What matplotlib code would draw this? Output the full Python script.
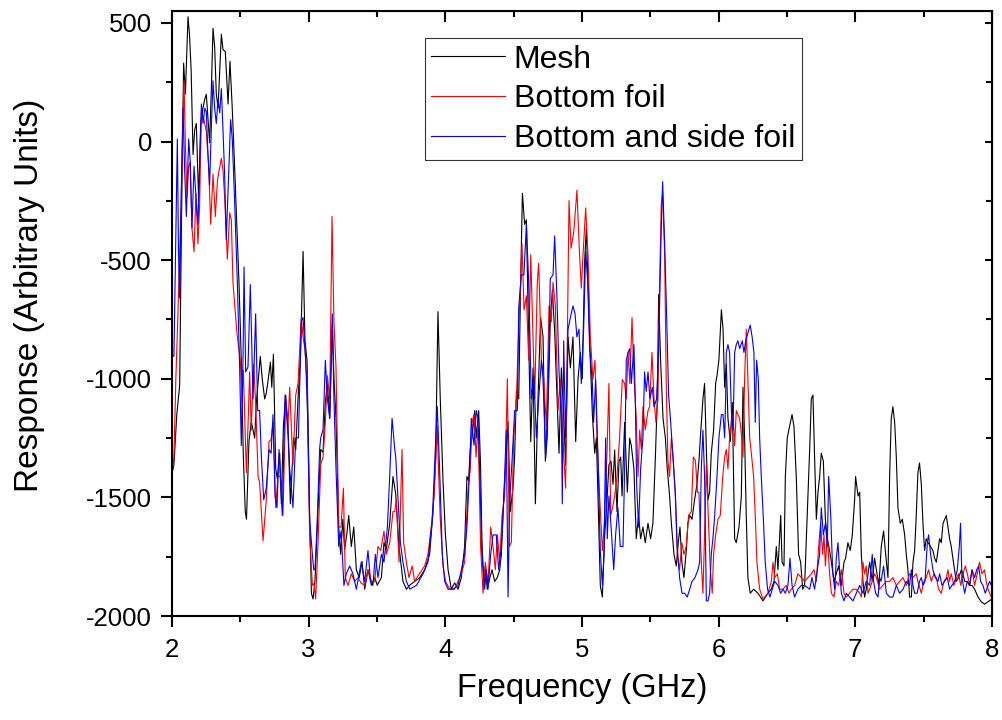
import matplotlib.pyplot as plt
from matplotlib.ticker import MultipleLocator, NullFormatter

plt.rcParams['font.family'] = ['Liberation Sans', 'DejaVu Sans']
plt.rcParams['axes.unicode_minus'] = False

# (frequency GHz, response)
mesh = [
    (2.000, -1400), (2.014, -1363), (2.035, -1150), (2.056, -1028), (2.068, -400), (2.085, 330),
    (2.098, 200), (2.117, 526), (2.128, 450), (2.140, 300), (2.154, -55), (2.166, 50), (2.178, 76),
    (2.195, -251), (2.210, 80), (2.227, 142), (2.240, 180), (2.251, 199), (2.263, 100), (2.275, -5),
    (2.288, 223), (2.300, 477), (2.312, 400), (2.324, 200), (2.337, 142), (2.349, 300), (2.361, 452),
    (2.373, 387), (2.390, 379), (2.410, 158), (2.424, 338), (2.440, 150), (2.458, -104), (2.475, -365),
    (2.490, -594), (2.507, -922), (2.522, -1330), (2.536, -1560), (2.545, -1592), (2.563, -1265),
    (2.580, -1180), (2.593, -1216), (2.605, -1250), (2.617, -1102), (2.632, -1000), (2.646, -906),
    (2.660, -1000), (2.678, -1085), (2.690, -1060), (2.700, -1020), (2.720, -930), (2.730, -1036),
    (2.742, -897), (2.759, -1380), (2.770, -1420), (2.788, -1314), (2.800, -1527), (2.815, -1200),
    (2.832, -1069), (2.848, -1200), (2.866, -1527), (2.890, -1249), (2.905, -1300), (2.922, -1085),
    (2.939, -922), (2.959, -463), (2.973, -840), (2.988, -922), (3.007, -1576), (3.020, -1904),
    (3.032, -1928), (3.046, -1854), (3.068, -1550), (3.088, -1298), (3.105, -1310), (3.122, -1100),
    (3.137, -1020), (3.154, -1167), (3.173, -774), (3.185, -1000), (3.200, -1167), (3.220, -1625),
    (3.234, -1740), (3.250, -1592), (3.263, -1720), (3.280, -1650), (3.293, -1576), (3.312, -1707),
    (3.330, -1625), (3.349, -1805), (3.370, -1838), (3.390, -1770), (3.410, -1887), (3.434, -1805),
    (3.459, -1870), (3.483, -1838), (3.502, -1870), (3.532, -1838), (3.551, -1690), (3.568, -1720),
    (3.593, -1609), (3.617, -1412), (3.637, -1486), (3.661, -1707), (3.690, -1854), (3.715, -1887),
    (3.740, -1870), (3.775, -1854), (3.810, -1840), (3.849, -1805), (3.885, -1740), (3.910, -1560),
    (3.929, -1330), (3.946, -717), (3.963, -1085), (3.983, -1429), (4.000, -1650), (4.020, -1805),
    (4.044, -1887), (4.068, -1860), (4.093, -1887), (4.117, -1838), (4.141, -1707), (4.158, -1412),
    (4.170, -1430), (4.182, -1300), (4.195, -1249), (4.215, -1134), (4.227, -1249), (4.244, -1134),
    (4.258, -1370), (4.268, -1691), (4.283, -1871), (4.292, -1790), (4.307, -1887), (4.325, -1840),
    (4.342, -1805), (4.361, -1854), (4.380, -1838), (4.398, -1805), (4.410, -1740), (4.429, -1480),
    (4.446, -1330), (4.459, -1180), (4.475, -1560), (4.495, -1461), (4.507, -1330), (4.520, -1053),
    (4.537, -1085), (4.551, -594), (4.564, -218), (4.580, -349), (4.593, -330), (4.610, -840),
    (4.625, -1265), (4.642, -954), (4.659, -1527), (4.678, -1085), (4.697, -742), (4.715, -824),
    (4.732, -1347), (4.745, -1250), (4.768, -760), (4.783, -627), (4.800, -800), (4.832, -1314),
    (4.849, -954), (4.866, -1150), (4.880, -1363), (4.898, -824), (4.915, -954), (4.934, -824),
    (4.954, -1265), (4.971, -1000), (4.988, -889), (5.002, -1000), (5.020, -496), (5.032, -365),
    (5.044, -600), (5.061, -922), (5.076, -1151), (5.093, -1314), (5.105, -1249), (5.117, -1494),
    (5.134, -1871), (5.149, -1920), (5.166, -1660), (5.183, -1510), (5.197, -1363), (5.212, -1347),
    (5.227, -1445), (5.239, -1300), (5.256, -1560), (5.271, -1347), (5.283, -1330), (5.293, -1494),
    (5.312, -1184), (5.332, -1478), (5.349, -1250), (5.361, -1282), (5.380, -1380), (5.397, -1674),
    (5.414, -1576), (5.429, -1674), (5.446, -1625), (5.463, -1691), (5.483, -1609), (5.502, -1674),
    (5.519, -1609), (5.537, -1330), (5.551, -1085), (5.561, -645), (5.575, -920), (5.593, -1167),
    (5.610, -1249), (5.624, -1380), (5.641, -1494), (5.654, -1609), (5.673, -1740), (5.690, -1789),
    (5.702, -1707), (5.717, -1625), (5.731, -1773), (5.746, -1838), (5.763, -1724), (5.775, -1609),
    (5.788, -1576), (5.805, -1592), (5.824, -1510), (5.841, -1445), (5.856, -1347), (5.866, -1249),
    (5.885, -1085), (5.897, -1020), (5.910, -1298), (5.922, -1510), (5.934, -1478), (5.946, -1314),
    (5.963, -1216), (5.978, -1020), (5.988, -987), (6.002, -920), (6.020, -709), (6.032, -791),
    (6.044, -1036), (6.056, -938), (6.068, -1167), (6.085, -1265), (6.100, -1100), (6.117, -1674),
    (6.129, -1691), (6.149, -1625), (6.166, -1494), (6.178, -1036), (6.190, -1249), (6.202, -1576),
    (6.214, -1838), (6.231, -1904), (6.256, -1887), (6.288, -1904), (6.324, -1936), (6.361, -1904),
    (6.385, -1887), (6.405, -1854), (6.422, -1707), (6.434, -1805), (6.454, -1576), (6.464, -1773),
    (6.478, -1789), (6.488, -1412), (6.502, -1249), (6.519, -1200), (6.537, -1151), (6.551, -1200),
    (6.568, -1412), (6.585, -1740), (6.600, -1773), (6.615, -1887), (6.629, -1871), (6.648, -1576),
    (6.666, -1298), (6.678, -1085), (6.690, -1069), (6.702, -1330), (6.715, -1592), (6.727, -1478),
    (6.739, -1412), (6.751, -1314), (6.766, -1347), (6.781, -1592), (6.795, -1674), (6.812, -1724),
    (6.825, -1773), (6.844, -1854), (6.861, -1822), (6.878, -1789), (6.898, -1871), (6.917, -1773),
    (6.929, -1756), (6.946, -1691), (6.963, -1724), (6.978, -1658), (6.995, -1510), (7.002, -1412),
    (7.020, -1494), (7.032, -1478), (7.044, -1740), (7.056, -1854), (7.068, -1920), (7.080, -1887),
    (7.093, -1822), (7.105, -1773), (7.124, -1854), (7.141, -1756), (7.154, -1805), (7.173, -1871),
    (7.190, -1707), (7.207, -1642), (7.222, -1740), (7.239, -1838), (7.251, -1412), (7.263, -1167),
    (7.275, -1118), (7.288, -1184), (7.300, -1330), (7.312, -1543), (7.329, -1609), (7.344, -1592),
    (7.361, -1658), (7.373, -1740), (7.385, -1805), (7.397, -1920), (7.410, -1920), (7.422, -1773),
    (7.434, -1724), (7.446, -1576), (7.458, -1396), (7.470, -1355), (7.483, -1445), (7.495, -1609),
    (7.507, -1724), (7.519, -1674), (7.532, -1691), (7.551, -1707), (7.568, -1724), (7.580, -1756),
    (7.593, -1773), (7.605, -1724), (7.617, -1674), (7.629, -1691), (7.642, -1609), (7.654, -1592),
    (7.666, -1576), (7.678, -1625), (7.690, -1674), (7.702, -1707), (7.722, -1789), (7.739, -1854),
    (7.756, -1838), (7.776, -1805), (7.788, -1822), (7.800, -1854), (7.819, -1854), (7.836, -1871),
    (7.854, -1871), (7.873, -1887), (7.898, -1920), (7.922, -1940), (7.946, -1950), (7.971, -1940),
    (7.995, -1930),
]

bottom_foil = [
    (2.000, -1400), (2.014, -1330), (2.028, -1000), (2.039, -807), (2.056, -464), (2.068, -235),
    (2.080, 125), (2.088, 256), (2.098, -22), (2.110, -235), (2.122, -104), (2.132, -88), (2.146, -365),
    (2.161, -464), (2.175, -218), (2.190, -431), (2.202, -267), (2.215, 125), (2.234, 92), (2.251, 43),
    (2.268, -104), (2.283, -349), (2.300, -137), (2.317, -316), (2.332, -169), (2.345, -120),
    (2.361, -71), (2.373, -120), (2.385, -235), (2.405, -496), (2.422, -300), (2.434, -330),
    (2.446, -594), (2.475, -807), (2.490, -880), (2.500, -920), (2.512, -1100), (2.522, -963),
    (2.544, -1396), (2.556, -1200), (2.568, -971), (2.580, -1216), (2.597, -938), (2.612, -1102),
    (2.630, -1412), (2.641, -1437), (2.666, -1683), (2.690, -1510), (2.710, -1265), (2.725, -1257),
    (2.739, -1184), (2.759, -1543), (2.775, -1410), (2.793, -1412), (2.812, -1576), (2.832, -1085),
    (2.846, -1230), (2.861, -1036), (2.885, -1363), (2.905, -1069), (2.922, -1020), (2.946, -742),
    (2.960, -830), (2.973, -873), (2.988, -1020), (3.007, -1658), (3.027, -1871), (3.039, -1862),
    (3.051, -1928), (3.068, -1700), (3.088, -1363), (3.105, -1330), (3.122, -1184), (3.137, -987),
    (3.154, -1085), (3.171, -316), (3.185, -760), (3.200, -954), (3.220, -1625), (3.237, -1625),
    (3.254, -1461), (3.268, -1838), (3.288, -1871), (3.312, -1822), (3.337, -1854), (3.361, -1838),
    (3.385, -1862), (3.410, -1871), (3.434, -1805), (3.459, -1854), (3.483, -1854), (3.507, -1707),
    (3.527, -1724), (3.551, -1642), (3.568, -1740), (3.593, -1691), (3.617, -1560), (3.630, -1560),
    (3.641, -1510), (3.661, -1773), (3.683, -1298), (3.695, -1691), (3.715, -1773), (3.734, -1838),
    (3.758, -1789), (3.775, -1854), (3.810, -1822), (3.849, -1789), (3.873, -1740), (3.897, -1625),
    (3.920, -1480), (3.941, -1200), (3.951, -1400), (3.963, -1592), (3.983, -1789), (4.002, -1854),
    (4.032, -1887), (4.068, -1887), (4.093, -1854), (4.117, -1822), (4.141, -1773), (4.166, -1461),
    (4.183, -1380), (4.195, -1184), (4.210, -1150), (4.225, -1330), (4.239, -1184), (4.258, -1707),
    (4.276, -1904), (4.293, -1773), (4.312, -1871), (4.332, -1625), (4.349, -1707), (4.366, -1805),
    (4.381, -1658), (4.398, -1773), (4.415, -1576), (4.434, -1494), (4.454, -1000), (4.468, -1707),
    (4.483, -1690), (4.500, -1249), (4.520, -1085), (4.537, -791), (4.551, -594), (4.561, -431),
    (4.576, -710), (4.593, -650), (4.610, -922), (4.625, -477), (4.642, -824), (4.654, -1085),
    (4.673, -594), (4.683, -513), (4.703, -922), (4.720, -1000), (4.739, -1200), (4.759, -693),
    (4.775, -760), (4.788, -594), (4.805, -693), (4.825, -1134), (4.842, -1003), (4.861, -1265),
    (4.880, -1461), (4.905, -249), (4.920, -450), (4.940, -380), (4.963, -205), (4.980, -450),
    (4.995, -618), (5.010, -450), (5.027, -280), (5.044, -480), (5.061, -823), (5.080, -1003),
    (5.095, -922), (5.110, -1249), (5.129, -1494), (5.149, -1724), (5.166, -1592), (5.183, -1314),
    (5.197, -1020), (5.210, -1576), (5.224, -1543), (5.239, -1494), (5.256, -1412), (5.275, -1249),
    (5.295, -1003), (5.312, -1020), (5.324, -1085), (5.337, -889), (5.350, -1020), (5.366, -742),
    (5.380, -987), (5.397, -1167), (5.410, -1412), (5.422, -1216), (5.434, -1298), (5.446, -1118),
    (5.463, -1216), (5.483, -1134), (5.495, -1118), (5.512, -889), (5.527, -1085), (5.541, -1184),
    (5.556, -1085), (5.568, -594), (5.580, -267), (5.590, -218), (5.605, -480), (5.617, -1036),
    (5.629, -1347), (5.641, -1412), (5.654, -1249), (5.666, -1330), (5.683, -1494), (5.697, -1740),
    (5.714, -1805), (5.731, -1691), (5.746, -1740), (5.763, -1707), (5.780, -1576), (5.800, -1560),
    (5.815, -1330), (5.830, -1345), (5.845, -1478), (5.856, -1478), (5.873, -1773), (5.885, -1904),
    (5.897, -1658), (5.910, -1363), (5.922, -1543), (5.939, -1805), (5.953, -1904), (5.963, -1740),
    (5.978, -1658), (5.995, -1592), (6.012, -1576), (6.030, -1412), (6.044, -1330), (6.056, -1298),
    (6.068, -1380), (6.080, -1249), (6.093, -1184), (6.105, -1151), (6.117, -1282), (6.129, -1134),
    (6.141, -1151), (6.154, -1167), (6.166, -1232), (6.178, -1330), (6.190, -1000), (6.202, -791),
    (6.214, -1000), (6.227, -1249), (6.239, -1314), (6.256, -1412), (6.270, -1609), (6.280, -1773),
    (6.300, -1887), (6.324, -1928), (6.361, -1904), (6.385, -1855), (6.398, -1773), (6.410, -1838),
    (6.430, -1822), (6.446, -1887), (6.470, -1887), (6.495, -1871), (6.515, -1904), (6.531, -1887),
    (6.556, -1871), (6.580, -1822), (6.605, -1838), (6.629, -1854), (6.654, -1838), (6.678, -1822),
    (6.698, -1805), (6.715, -1854), (6.732, -1707), (6.746, -1609), (6.761, -1740), (6.771, -1658),
    (6.781, -1789), (6.795, -1658), (6.812, -1822), (6.825, -1904), (6.844, -1920), (6.861, -1854),
    (6.878, -1871), (6.898, -1805), (6.917, -1904), (6.934, -1920), (6.958, -1904), (6.983, -1887),
    (7.007, -1887), (7.032, -1904), (7.044, -1920), (7.056, -1773), (7.068, -1822), (7.080, -1789),
    (7.093, -1904), (7.105, -1887), (7.124, -1854), (7.141, -1822), (7.154, -1838), (7.178, -1887),
    (7.202, -1871), (7.227, -1854), (7.251, -1854), (7.275, -1838), (7.300, -1871), (7.324, -1854),
    (7.349, -1838), (7.373, -1871), (7.397, -1822), (7.422, -1838), (7.446, -1822), (7.458, -1854),
    (7.483, -1904), (7.502, -1854), (7.519, -1838), (7.536, -1805), (7.556, -1854), (7.575, -1822),
    (7.593, -1838), (7.610, -1887), (7.629, -1904), (7.649, -1854), (7.666, -1838), (7.678, -1805),
    (7.690, -1854), (7.702, -1822), (7.722, -1871), (7.741, -1838), (7.756, -1822), (7.771, -1871),
    (7.788, -1822), (7.805, -1789), (7.820, -1822), (7.837, -1871), (7.854, -1805), (7.873, -1871),
    (7.892, -1822), (7.909, -1773), (7.927, -1822), (7.946, -1805), (7.958, -1854), (7.971, -1887),
    (7.983, -1904), (7.995, -1920),
]

bottom_side_foil = [
    (2.000, -900), (2.014, -905), (2.028, -400), (2.039, 11), (2.047, -450), (2.056, -660),
    (2.068, -200), (2.080, 142), (2.093, -130), (2.105, -316), (2.122, 11), (2.134, -90), (2.146, -365),
    (2.161, -104), (2.175, -230), (2.190, -349), (2.202, -100), (2.215, 158), (2.227, 76), (2.240, 140),
    (2.251, 125), (2.263, -50), (2.275, -185), (2.288, 60), (2.300, 256), (2.312, 140), (2.324, 76),
    (2.337, 180), (2.349, 120), (2.361, 223), (2.373, 50), (2.385, -140), (2.397, -414), (2.414, -150),
    (2.429, 92), (2.441, 10), (2.458, -250), (2.478, -594), (2.495, -955), (2.507, -1282),
    (2.520, -900), (2.527, -529), (2.539, -971), (2.556, -950), (2.573, -603), (2.593, -1085),
    (2.612, -726), (2.627, -1134), (2.641, -1134), (2.654, -1330), (2.671, -1510), (2.690, -1461),
    (2.710, -1298), (2.725, -1314), (2.739, -1151), (2.754, -1494), (2.768, -1543), (2.783, -1298),
    (2.807, -1576), (2.827, -1069), (2.846, -1184), (2.861, -1380), (2.885, -1543), (2.905, -1249),
    (2.925, -1249), (2.946, -758), (2.959, -742), (2.978, -922), (2.993, -1167), (3.007, -1592),
    (3.027, -1740), (3.037, -1805), (3.046, -1805), (3.060, -1640), (3.080, -1298), (3.088, -1249),
    (3.105, -1216), (3.122, -922), (3.137, -1085), (3.154, -1167), (3.173, -726), (3.185, -1085),
    (3.200, -1380), (3.220, -1707), (3.237, -1642), (3.258, -1871), (3.275, -1822), (3.300, -1789),
    (3.324, -1822), (3.349, -1887), (3.385, -1773), (3.410, -1854), (3.434, -1724), (3.453, -1854),
    (3.470, -1871), (3.488, -1740), (3.507, -1838), (3.532, -1740), (3.551, -1773), (3.576, -1625),
    (3.593, -1412), (3.610, -1167), (3.630, -1298), (3.637, -1330), (3.654, -1510), (3.671, -1691),
    (3.690, -1773), (3.715, -1854), (3.740, -1887), (3.790, -1870), (3.837, -1822), (3.873, -1773),
    (3.905, -1592), (3.924, -1330), (3.941, -1118), (3.958, -1380), (3.978, -1740), (3.995, -1854),
    (4.020, -1887), (4.056, -1887), (4.093, -1871), (4.117, -1805), (4.141, -1740), (4.158, -1625),
    (4.178, -1380), (4.190, -1167), (4.210, -1280), (4.227, -1134), (4.239, -1167), (4.251, -1380),
    (4.268, -1740), (4.288, -1887), (4.300, -1805), (4.312, -1887), (4.332, -1740), (4.349, -1658),
    (4.373, -1658), (4.390, -1805), (4.410, -1707), (4.429, -1494), (4.446, -1216), (4.459, -1920),
    (4.471, -1510), (4.488, -1347), (4.507, -1134), (4.527, -1134), (4.537, -700), (4.556, -562),
    (4.575, -562), (4.593, -349), (4.610, -594), (4.629, -1085), (4.648, -990), (4.666, -1249),
    (4.683, -1085), (4.703, -922), (4.715, -1003), (4.734, -1330), (4.751, -1085), (4.768, -578),
    (4.788, -562), (4.800, -398), (4.817, -660), (4.832, -971), (4.849, -1151), (4.856, -1527),
    (4.866, -840), (4.880, -1249), (4.898, -791), (4.915, -742), (4.934, -693), (4.949, -726),
    (4.963, -824), (4.978, -791), (4.995, -1020), (5.012, -791), (5.027, -463), (5.042, -594),
    (5.056, -873), (5.076, -1020), (5.085, -1184), (5.100, -1003), (5.117, -1330), (5.134, -1724),
    (5.149, -1871), (5.161, -1740), (5.173, -1249), (5.185, -1674), (5.197, -1494), (5.215, -1642),
    (5.232, -1805), (5.246, -1658), (5.263, -1543), (5.280, -1707), (5.300, -1707), (5.312, -1380),
    (5.324, -922), (5.337, -889), (5.349, -873), (5.361, -1020), (5.380, -856), (5.390, -1085),
    (5.400, -1445), (5.414, -1625), (5.429, -1380), (5.446, -1249), (5.458, -971), (5.470, -1053),
    (5.483, -971), (5.497, -1085), (5.515, -1036), (5.527, -1118), (5.546, -1085), (5.561, -873),
    (5.580, -365), (5.590, -169), (5.605, -430), (5.619, -726), (5.634, -1069), (5.649, -1184),
    (5.666, -1330), (5.683, -1478), (5.697, -1707), (5.714, -1838), (5.732, -1904), (5.751, -1904),
    (5.770, -1920), (5.788, -1887), (5.805, -1854), (5.825, -1840), (5.849, -1805), (5.861, -1773),
    (5.873, -1380), (5.885, -1216), (5.897, -1412), (5.910, -1936), (5.922, -1936), (5.934, -1904),
    (5.946, -1740), (5.958, -1674), (5.971, -1576), (5.988, -1412), (6.002, -1249), (6.020, -1151),
    (6.032, -1151), (6.044, -1249), (6.051, -1085), (6.056, -889), (6.068, -856), (6.080, -889),
    (6.093, -1134), (6.105, -1216), (6.117, -889), (6.129, -856), (6.141, -840), (6.154, -873),
    (6.173, -840), (6.185, -889), (6.198, -840), (6.214, -807), (6.231, -774), (6.245, -824),
    (6.258, -889), (6.268, -1184), (6.278, -922), (6.290, -1000), (6.300, -1249), (6.312, -1412),
    (6.326, -1576), (6.341, -1773), (6.358, -1888), (6.375, -1920), (6.410, -1854), (6.434, -1871),
    (6.454, -1904), (6.471, -1887), (6.488, -1904), (6.507, -1871), (6.522, -1756), (6.537, -1871),
    (6.556, -1920), (6.580, -1887), (6.605, -1871), (6.629, -1871), (6.666, -1887), (6.683, -1838),
    (6.702, -1887), (6.722, -1805), (6.739, -1740), (6.751, -1543), (6.766, -1658), (6.781, -1609),
    (6.795, -1707), (6.805, -1412), (6.820, -1576), (6.834, -1805), (6.849, -1887), (6.861, -1756),
    (6.873, -1691), (6.885, -1805), (6.898, -1904), (6.917, -1936), (6.934, -1904), (6.958, -1920),
    (6.983, -1936), (7.007, -1904), (7.032, -1871), (7.056, -1904), (7.080, -1854), (7.105, -1871),
    (7.124, -1740), (7.134, -1854), (7.149, -1904), (7.166, -1920), (7.178, -1838), (7.188, -1854),
    (7.207, -1789), (7.227, -1904), (7.251, -1920), (7.275, -1920), (7.300, -1871), (7.324, -1904),
    (7.349, -1887), (7.373, -1854), (7.397, -1871), (7.410, -1805), (7.422, -1871), (7.434, -1904),
    (7.452, -1904), (7.470, -1854), (7.483, -1838), (7.495, -1871), (7.510, -1854), (7.527, -1691),
    (7.536, -1658), (7.551, -1740), (7.568, -1805), (7.585, -1838), (7.605, -1854), (7.617, -1822),
    (7.634, -1871), (7.654, -1854), (7.673, -1838), (7.690, -1887), (7.707, -1871), (7.727, -1854),
    (7.746, -1805), (7.761, -1707), (7.770, -1609), (7.780, -1838), (7.800, -1904), (7.819, -1854),
    (7.836, -1871), (7.854, -1805), (7.873, -1838), (7.888, -1805), (7.903, -1789), (7.917, -1854),
    (7.934, -1871), (7.951, -1904), (7.971, -1871), (7.983, -1854), (7.995, -1871),
]

series = [
    ("Mesh", mesh, "black"),
    ("Bottom foil", bottom_foil, "#ff0000"),
    ("Bottom and side foil", bottom_side_foil, "#0000ff"),
]

fig = plt.figure(figsize=(10.03, 7.2), dpi=100)
ax = fig.add_axes([0.1715, 0.1444, 0.8175, 0.8403])

for name, pts, col in series:
    f = [p[0] for p in pts]
    r = [p[1] for p in pts]
    ax.plot(f, r, color=col, linewidth=0.8, label=name)

ax.set_xlim(2, 8)
ax.set_ylim(-2000, 550)
ax.xaxis.set_major_locator(MultipleLocator(1))
ax.xaxis.set_minor_locator(MultipleLocator(0.5))
ax.yaxis.set_major_locator(MultipleLocator(500))
ax.yaxis.set_minor_locator(MultipleLocator(250))

for s in ax.spines.values():
    s.set_linewidth(1.5)

ax.tick_params(which='major', direction='out', length=8, width=1.5, labelsize=18.5)
ax.tick_params(axis='x', which='major', pad=8)
ax.tick_params(axis='y', which='major', pad=6.5)
ax.tick_params(which='minor', direction='out', length=4, width=1.5)

top = ax.secondary_xaxis('top')
top.xaxis.set_major_locator(MultipleLocator(1))
top.xaxis.set_minor_locator(MultipleLocator(0.5))
top.xaxis.set_major_formatter(NullFormatter())
top.tick_params(which='major', direction='in', length=8, width=1.5)
top.tick_params(which='minor', direction='in', length=4, width=1.5)

right = ax.secondary_yaxis('right')
right.yaxis.set_major_locator(MultipleLocator(500))
right.yaxis.set_minor_locator(MultipleLocator(250))
right.yaxis.set_major_formatter(NullFormatter())
right.tick_params(which='major', direction='in', length=5, width=1.5)
right.tick_params(which='minor', direction='in', length=4, width=1.5)

ax.set_xlabel("Frequency (GHz)", fontsize=23.5, labelpad=8)
ax.set_ylabel("Response (Arbitrary Units)", fontsize=24)
ax.yaxis.set_label_coords(-0.155, 0.53)

leg = ax.legend(loc='upper left', bbox_to_anchor=(0.3085, 0.955), fontsize=23,
                frameon=True, fancybox=False, edgecolor='black', borderaxespad=0,
                handlelength=2.3, handletextpad=0.28, labelspacing=0.3, borderpad=0.2)
leg.get_frame().set_linewidth(0.8)
for h in leg.get_lines():
    h.set_linewidth(0.8)

fig.savefig("out.png", dpi=100)
